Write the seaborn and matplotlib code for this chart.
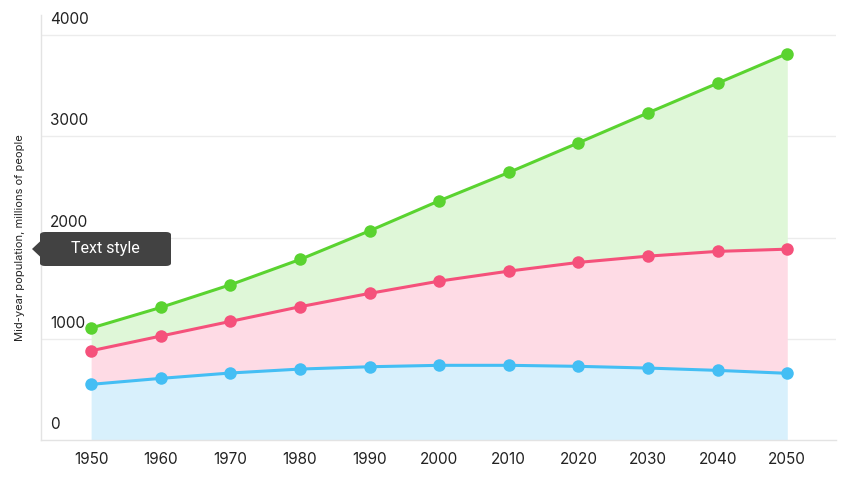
import matplotlib
matplotlib.use("Agg")
import matplotlib.pyplot as plt
from matplotlib.patches import FancyBboxPatch, Polygon
import matplotlib.transforms as mtransforms
import seaborn as sns
import pandas as pd

years = [1950, 1960, 1970, 1980, 1990, 2000, 2010, 2020, 2030, 2040, 2050]
green_vals = [1106, 1310, 1534, 1784, 2067, 2364, 2644, 2937, 3233, 3526, 3819]
pink_vals = [882, 1027, 1172, 1317, 1449, 1570, 1669, 1755, 1817, 1864, 1886]
blue_vals = [550, 609, 662, 701, 724, 738, 738, 728, 711, 688, 659]
y_ticks = [0, 1000, 2000, 3000, 4000]
y_title = "Mid-year population, millions of people"
tooltip_text = "Text style"

GREEN = "#5ad330"
PINK = "#f5517b"
BLUE = "#44bef4"

sns.set_style("white")
plt.rcParams["font.family"] = ["Inter", "DejaVu Sans"]

df = pd.DataFrame({"year": years, "green": green_vals, "pink": pink_vals, "blue": blue_vals})

fig = plt.figure(figsize=(8.52, 4.8), dpi=100)
ax = fig.add_axes([41 / 852, 40 / 480, 795 / 852, 425 / 480])

# filled bands, each one from the series below it
ax.fill_between(df["year"], 0, df["blue"], color="#d8f0fc", linewidth=0, zorder=1)
ax.fill_between(df["year"], df["blue"], df["pink"], color="#fedbe5", linewidth=0, zorder=1)
ax.fill_between(df["year"], df["pink"], df["green"], color="#dff7d8", linewidth=0, zorder=1)

for col, c in [("blue", BLUE), ("pink", PINK), ("green", GREEN)]:
    sns.lineplot(data=df, x="year", y=col, ax=ax, color=c, linewidth=2.2,
                 marker="o", markersize=9, markeredgewidth=0, zorder=3)

ax.set_xlim(1942.8, 2057)
ax.set_ylim(0, 4200)

for v in y_ticks[1:]:
    ax.axhline(v, color="#ececec", linewidth=1, zorder=0.5)

# y labels sit inside the plot, a little above their gridline
trans = mtransforms.blended_transform_factory(ax.transAxes, ax.transData)
trans = mtransforms.offset_copy(trans, fig=fig, x=0, y=8, units="dots")
for v in y_ticks:
    ax.text(9 / 795, v, str(v), transform=trans, ha="left", va="bottom",
            fontsize=11, color="#222222")
ax.set_yticks([])

ax.set_xticks(years)
ax.set_xticklabels([str(y) for y in years], fontsize=11, color="#222222")
ax.tick_params(axis="x", length=0, pad=9)
ax.set_xlabel("")
ax.set_ylabel("")

for side in ["top", "right"]:
    ax.spines[side].set_visible(False)
ax.spines["left"].set_color("#e3e3e3")
ax.spines["bottom"].set_color("#e3e3e3")
ax.spines["left"].set_linewidth(1)
ax.spines["bottom"].set_linewidth(1)

fig.text(20 / 852, 1 - 238 / 480, y_title, rotation=90, ha="center", va="center",
         fontsize=8, color="#222222")

# tooltip box with a small arrow on the left
box = FancyBboxPatch((40 / 852, 1 - 266 / 480), 131 / 852, 34 / 480,
                     boxstyle="round,pad=0,rounding_size=0.006",
                     transform=fig.transFigure, facecolor="#424242", edgecolor="none")
fig.patches.append(box)
arrow = Polygon([(32 / 852, 1 - 249 / 480), (40.5 / 852, 1 - 241 / 480), (40.5 / 852, 1 - 257 / 480)],
                closed=True, transform=fig.transFigure, facecolor="#424242", edgecolor="none")
fig.patches.append(arrow)
fig.text(105 / 852, 1 - 249 / 480, tooltip_text, ha="center", va="center",
         fontsize=11.5, color="white", family=["Roboto", "DejaVu Sans"])

fig.savefig("out.png", dpi=100)
